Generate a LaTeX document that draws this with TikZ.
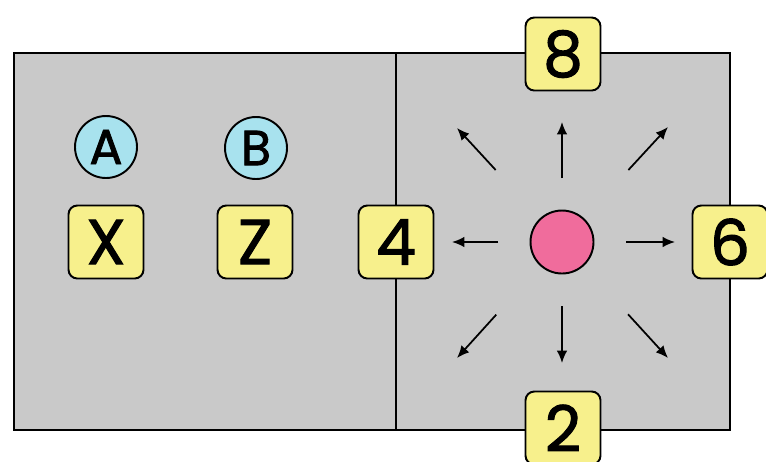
\documentclass[tikz,border=0pt]{standalone}
\usepackage{fontspec}
\setmainfont[FakeBold=1.6]{Poppins}
\usetikzlibrary{arrows,arrows.meta,positioning}
\definecolor{court}{HTML}{C9C9C9}
\definecolor{tagyellow}{HTML}{F7F08C}
\definecolor{playerblue}{HTML}{A8E2EE}
\definecolor{ballpink}{HTML}{F06C9C}
\begin{document}
\begin{tikzpicture}[x=0.02cm,y=-0.02cm,line width=1.1pt]
    \tikzstyle{tag}=[draw, fill=tagyellow, rounded corners=5pt, minimum width=1.5cm, minimum height=1.46cm, inner sep=0pt, font=\fontsize{36}{36}\selectfont]
    \tikzstyle{player}=[circle, draw, fill=playerblue, minimum size=1.24cm, inner sep=0pt, font=\fontsize{28}{28}\selectfont]
    \tikzstyle{move}=[-{Latex[length=7pt,width=6pt]}, line width=1pt]

    \useasboundingbox (0,0) rectangle (766,461);
    \fill[white] (0,0) rectangle (766,461);

    % court and centre line
    \draw[fill=court] (14,53) rectangle (730,430);
    \draw (396,53) -- (396,430);

    \node[player]  (A) at (106,147) {A};
    \node[player]  (B) at (256,148) {B};
    \node[tag]     (X) at (106,242) {X};
    \node[tag]     (Z) at (255,242) {Z};
    \node[tag]     (four)  at (396,242) {4};
    \node[tag]     (eight) at (563,54)  {8};
    \node[tag]     (six)   at (730,242) {6};
    \node[tag]     (two)   at (563,428) {2};
    \node[circle, draw, fill=ballpink, minimum size=1.26cm, inner sep=0pt] (ball) at (562,242) {};

    % arrow ends
    \coordinate (up)    at (562,122);
    \coordinate (down)  at (562,363);
    \coordinate (left)  at (452,242);
    \coordinate (right) at (675,242);
    \coordinate (ul)    at (457,128);
    \coordinate (ur)    at (668,127);
    \coordinate (dl)    at (457,358);
    \coordinate (dr)    at (668,358);

    \foreach \e in {up,down,left,right}
      \draw[move, shorten <=1.28cm] (ball.center) -- (\e);
    \foreach \e in {ul,ur,dl,dr}
      \draw[move, shorten <=1.96cm] (ball.center) -- (\e);

\end{tikzpicture}
\end{document}
